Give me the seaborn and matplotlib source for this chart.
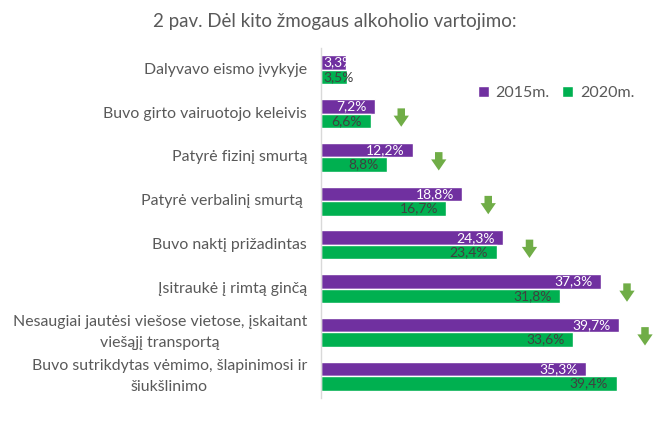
import matplotlib
matplotlib.use("Agg")
import matplotlib.pyplot as plt
import matplotlib.transforms as mtransforms
import seaborn as sns
import pandas as pd
import unicodedata

categories = [
    "Dalyvavo eismo įvykyje",
    "Buvo girto vairuotojo keleivis",
    "Patyrė fizinį smurtą",
    "Patyrė verbalinį smurtą ",
    "Buvo naktį prižadintas",
    "Įsitraukė į rimtą ginčą",
    "Nesaugiai jautėsi viešose vietose, įskaitant\nviešąjį transportą",
    "Buvo sutrikdytas vėmimo, šlapinimosi ir\nšiukšlinimo",
]
v2015 = [3.3, 7.2, 12.2, 18.8, 24.3, 37.3, 39.7, 35.3]
v2020 = [3.5, 6.6, 8.8, 16.7, 23.4, 31.8, 33.6, 39.4]
series = ["2015m.", "2020m."]
title = "2 pav. Dėl kito žmogaus alkoholio vartojimo:"

categories = [unicodedata.normalize("NFC", c) for c in categories]

PURPLE = "#7030A0"
GREEN = "#00B050"
ARROW = "#70AD47"
TXT = "#595959"

df = pd.DataFrame({
    "cat": categories * 2,
    "val": v2015 + v2020,
    "year": [series[0]] * len(categories) + [series[1]] * len(categories),
})

sns.set_theme(style="white")
plt.rcParams["font.family"] = ["Lato", "DejaVu Sans"]

fig = plt.figure(figsize=(6.7, 4.29), dpi=100)
ax = fig.add_axes([321 / 670, 1 - 398 / 429, (660 - 321) / 670, (398 - 48) / 429])

sns.barplot(data=df, x="val", y="cat", hue="year", orient="h",
            palette=[PURPLE, GREEN], width=0.66, gap=0, ax=ax,
            saturation=1, legend=True)

ax.set_xlim(0, 45.2)
ax.set_ylim(len(categories) - 0.5, -0.5)
ax.set_xlabel("")
ax.set_ylabel("")
ax.set_xticks([])
for s in ["top", "right", "bottom"]:
    ax.spines[s].set_visible(False)
ax.spines["left"].set_color("#D9D9D9")
ax.spines["left"].set_linewidth(1)
ax.tick_params(axis="y", length=0, labelleft=False)

# category labels: block right-aligned, lines centred within block
ytrans = ax.get_yaxis_transform()
renderer = fig.canvas.get_renderer()
line_step = 0.48
for i, c in enumerate(categories):
    lines = c.split("\n")
    n = len(lines)
    first = ax.text(-0.041, i - (n - 1) / 2 * line_step, lines[0], transform=ytrans,
                    ha="right", va="center", fontsize=11.4, color=TXT)
    if n > 1:
        bb = first.get_window_extent(renderer=renderer)
        cx_axes = ax.transAxes.inverted().transform(((bb.x0 + bb.x1) / 2, 0))[0]
        for k in range(1, n):
            ax.text(cx_axes, i + (k - (n - 1) / 2) * line_step, lines[k], transform=ytrans,
                    ha="center", va="center", fontsize=11.4, color=TXT)

# value labels
for ci, cont in enumerate(ax.containers):
    for bar in cont:
        w = bar.get_width()
        y = bar.get_y() + bar.get_height() / 2
        txt = f"{w:.1f}%".replace(".", ",")
        color = "white" if ci == 0 else "#404040"
        if w < 5:
            t = ax.text(0.3, y, txt, ha="left", va="center", fontsize=10, color=color)
            if ci == 0:
                t.set_clip_path(bar)
        else:
            ax.text(w - 1.1, y, txt, ha="right", va="center", fontsize=10, color=color)

# decrease arrows
for i, (a, b) in enumerate(zip(v2015, v2020)):
    if b < a:
        x = max(a, b) + 3.5
        ax.annotate("", xy=(x, i + 0.3), xytext=(x, i - 0.12),
                    arrowprops=dict(arrowstyle="simple,head_width=0.55,head_length=0.4,tail_width=0.27",
                                    mutation_scale=20, color=ARROW, lw=0,
                                    shrinkA=0, shrinkB=0),
                    annotation_clip=False)

leg = ax.legend(loc="center", bbox_to_anchor=(556 / 670, 1 - 93 / 429),
                bbox_transform=fig.transFigure, ncol=2, frameon=False,
                fontsize=11.5, handlelength=0.7, handleheight=0.7,
                columnspacing=0.8, handletextpad=0.4)
for t in leg.get_texts():
    t.set_color(TXT)

fig.text(0.5, 1 - 22 / 429, title, ha="center", va="center", fontsize=13.5, color=TXT)

fig.savefig("out.png", dpi=100)
